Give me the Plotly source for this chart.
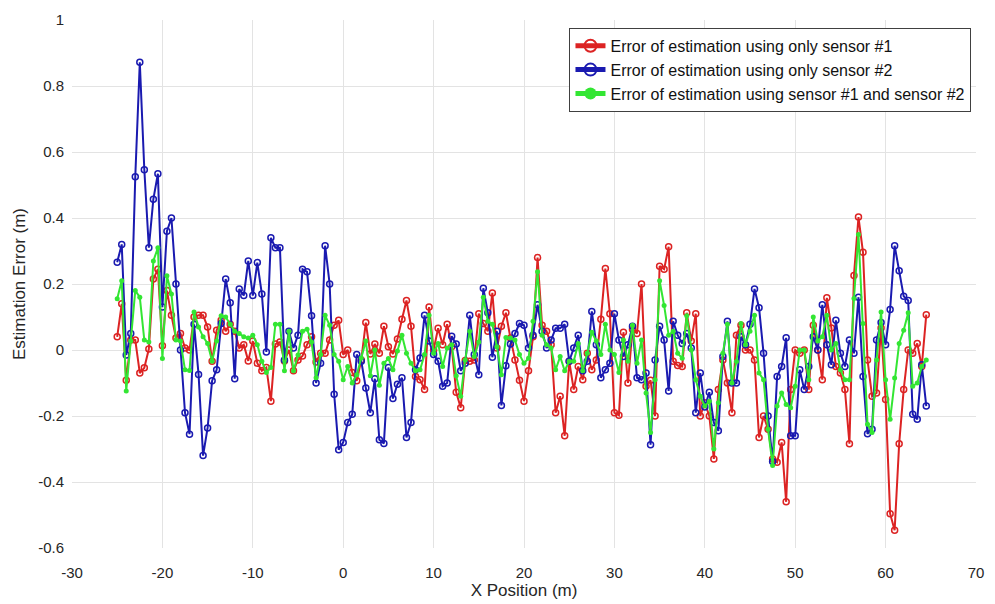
import numpy as np
import plotly.graph_objects as go

# X positions (m): regular 0.5 m sampling from -25 to 64.5
x_pos = np.arange(-25.0, 65.0, 0.5)

err_sensor1 = [
    0.04, 0.14, -0.092, 0.03, 0.03, -0.07, -0.054, 0.003, 0.215, 0.245,
    0.013, 0.18, 0.105, 0.036, 0.05, 0.006, 0.0, 0.1, 0.105, 0.105,
    0.07, -0.034, 0.06, 0.09, 0.057, 0.078, 0.057, 0.006, 0.016, -0.033,
    0.027, -0.04, -0.063, -0.053, -0.155, 0.018, 0.024, -0.033, 0.0, -0.063,
    -0.03, -0.018, 0.016, 0.04, -0.036, -0.01, -0.01, 0.03, 0.075, 0.09,
    -0.014, 0.0, -0.068, -0.093, -0.03, 0.083, -0.012, 0.018, -0.01, 0.072,
    0.01, -0.012, 0.033, 0.093, 0.15, 0.072, -0.08, -0.09, -0.12, 0.13,
    0.0, 0.066, 0.016, 0.078, 0.01, -0.128, -0.175, -0.032, -0.034, -0.03,
    0.11, 0.08, 0.057, 0.173, 0.006, 0.072, 0.113, 0.036, -0.03, -0.092,
    -0.155, -0.063, 0.04, 0.28, 0.075, 0.057, 0.016, -0.19, -0.14, -0.26,
    -0.034, -0.12, -0.05, -0.09, -0.01, -0.06, -0.03, 0.093, 0.247, 0.11,
    -0.19, -0.198, 0.054, -0.1, 0.063, 0.05, 0.2, -0.11, -0.092, -0.2,
    0.254, 0.245, 0.313, -0.034, -0.047, -0.05, 0.113, 0.027, 0.11, -0.2,
    -0.16, -0.2, -0.33, -0.12, -0.03, -0.1, -0.19, 0.045, 0.075, 0.0,
    0.0, -0.03, -0.265, -0.2, -0.24, -0.33, -0.34, -0.28, -0.46, -0.12,
    0.0, -0.01, 0.0, -0.12, 0.075, 0.0, -0.09, 0.158, 0.067, -0.05,
    -0.07, -0.12, -0.284, 0.226, 0.403, 0.296, -0.03, -0.14, -0.13, 0.067,
    -0.15, -0.496, -0.546, -0.284, -0.12, 0.0, -0.01, 0.02, -0.05, 0.107,
]

err_sensor2 = [
    0.266, 0.32, -0.015, 0.05, 0.525, 0.872, 0.546, 0.31, 0.457, 0.534,
    0.13, 0.36, 0.40, 0.20, 0.0, -0.19, -0.255, 0.078, -0.074, -0.32,
    -0.236, -0.093, -0.06, 0.08, 0.215, 0.143, -0.087, 0.185, 0.165, 0.27,
    0.165, 0.265, 0.17, -0.006, 0.34, 0.31, 0.31, -0.03, 0.057, 0.006,
    0.045, 0.245, 0.237, 0.104, -0.1, -0.04, 0.316, 0.2, -0.134, -0.302,
    -0.28, -0.22, -0.195, -0.014, -0.034, -0.115, -0.19, -0.087, -0.272, -0.283,
    -0.053, -0.147, -0.104, -0.084, -0.265, -0.22, -0.06, -0.024, 0.105, 0.027,
    -0.014, -0.034, -0.11, -0.1, 0.042, 0.018, -0.063, -0.04, 0.105, -0.014,
    -0.075, 0.187, 0.113, -0.022, 0.057, -0.168, -0.048, 0.018, 0.05, 0.08,
    0.075, 0.006, 0.045, 0.137, 0.057, 0.006, 0.03, 0.066, 0.066, 0.078,
    -0.034, 0.006, 0.045, -0.063, -0.034, 0.117, 0.016, -0.084, -0.06, -0.04,
    0.11, 0.03, -0.02, 0.016, 0.072, -0.084, -0.09, -0.07, -0.287, -0.03,
    0.072, 0.03, -0.124, 0.087, 0.045, 0.02, 0.05, 0.006, -0.19, -0.07,
    -0.173, -0.128, -0.22, -0.245, -0.02, 0.087, -0.1, -0.1, 0.04, 0.016,
    0.078, 0.185, 0.128, -0.01, -0.2, -0.338, -0.08, -0.05, 0.037, -0.26,
    -0.26, -0.06, -0.12, -0.05, 0.04, 0.0, 0.137, 0.016, -0.045, 0.09,
    -0.01, -0.05, 0.03, -0.01, 0.16, -0.08, -0.254, -0.24, 0.03, 0.083,
    0.016, 0.123, 0.316, 0.24, 0.163, 0.15, -0.195, -0.21, -0.045, -0.17,
]

err_fused = [
    0.155, 0.21, -0.124, 0.027, 0.18, 0.16, 0.03, 0.024, 0.27, 0.31,
    -0.026, 0.225, 0.17, 0.03, 0.027, -0.06, -0.062, 0.115, 0.07, 0.04,
    0.02, -0.034, 0.027, 0.104, 0.1, 0.078, 0.057, 0.05, 0.04, 0.036,
    0.045, 0.016, -0.034, -0.068, -0.053, 0.078, 0.078, -0.063, 0.057, -0.063,
    -0.015, 0.057, 0.063, 0.024, -0.084, -0.014, 0.105, 0.075, -0.014, -0.034,
    -0.09, -0.05, -0.1, -0.075, -0.024, 0.027, -0.078, 0.0, -0.107, -0.04,
    -0.026, -0.06, -0.003, 0.045, -0.01, -0.04, -0.063, -0.06, -0.014, 0.105,
    -0.01, 0.02, -0.05, 0.006, 0.016, -0.078, -0.14, -0.03, 0.057, -0.02,
    0.024, 0.16, 0.087, 0.078, 0.01, -0.075, 0.038, 0.036, 0.03, -0.014,
    -0.04, -0.025, 0.087, 0.237, 0.045, 0.016, 0.006, -0.06, -0.02, -0.063,
    -0.034, -0.034, 0.02, -0.063, -0.01, 0.054, 0.027, -0.014, 0.078, 0.0,
    -0.014, -0.068, 0.03, -0.034, 0.075, -0.04, 0.03, -0.13, -0.25, -0.09,
    0.21, 0.135, 0.045, 0.057, -0.01, -0.025, 0.104, 0.0, -0.09, -0.14,
    -0.17, -0.155, -0.3, -0.16, -0.01, 0.078, -0.1, -0.035, 0.08, 0.016,
    0.057, 0.105, -0.07, -0.09, -0.24, -0.35, -0.17, -0.13, -0.165, -0.175,
    -0.11, 0.0, 0.0, -0.09, 0.1, 0.027, 0.04, 0.105, 0.0, 0.02,
    -0.06, -0.09, -0.09, 0.156, 0.35, 0.08, -0.225, -0.25, -0.03, 0.115,
    -0.09, -0.21, -0.085, 0.02, 0.06, 0.113, -0.11, -0.1, -0.05, -0.03,
]

series_names = [
    "Error of estimation using only sensor #1",
    "Error of estimation using only sensor #2",
    "Error of estimation using sensor #1 and sensor #2",
]

x_ticks = [-30, -20, -10, 0, 10, 20, 30, 40, 50, 60, 70]
y_ticks = [-0.6, -0.4, -0.2, 0, 0.2, 0.4, 0.6, 0.8, 1]
y_tick_labels = ["-0.6", "-0.4", "-0.2", "0", "0.2", "0.4", "0.6", "0.8", "1"]

FONT = "Liberation Sans, Arial, sans-serif"

fig = go.Figure()
fig.add_trace(go.Scatter(
    x=x_pos, y=err_sensor1, name=series_names[0], mode="lines+markers",
    line=dict(color="#dc2323", width=2),
    marker=dict(symbol="circle-open", size=6, color="#dc2323", line=dict(width=1.5)),
))
fig.add_trace(go.Scatter(
    x=x_pos, y=err_sensor2, name=series_names[1], mode="lines+markers",
    line=dict(color="#1a1ab0", width=2),
    marker=dict(symbol="circle-open", size=6, color="#1a1ab0", line=dict(width=1.5)),
))
fig.add_trace(go.Scatter(
    x=x_pos, y=err_fused, name=series_names[2], mode="lines+markers",
    line=dict(color="#33e633", width=2),
    marker=dict(symbol="circle", size=5, color="#33e633"),
))

fig.update_layout(
    width=995, height=604,
    margin=dict(l=72, r=11, t=17, b=51),
    paper_bgcolor="white", plot_bgcolor="white",
    font=dict(family=FONT, size=15, color="#262626"),
    showlegend=True,
    legend=dict(
        x=0.995, y=0.985, xanchor="right", yanchor="top",
        bgcolor="white", bordercolor="#404040", borderwidth=1,
        font=dict(family=FONT, size=16, color="#111111"),
        itemsizing="constant", itemwidth=30, tracegroupgap=0,
    ),
)
fig.update_xaxes(
    range=[-30, 70], tickvals=x_ticks, ticktext=[str(v) for v in x_ticks],
    showgrid=True, gridcolor="#e3e3e3", gridwidth=1, zeroline=False,
    showline=False, ticks="", ticklabelstandoff=14,
    title=dict(text="X Position (m)", font=dict(size=17, family=FONT, color="#262626"), standoff=0),
    tickfont=dict(size=15, family=FONT, color="#262626"),
)
fig.update_yaxes(
    range=[-0.6, 1], tickvals=y_ticks, ticktext=y_tick_labels,
    showgrid=True, gridcolor="#e3e3e3", gridwidth=1, zeroline=False,
    showline=False, ticks="", ticklabelstandoff=7,
    title=dict(text="Estimation Error (m)", font=dict(size=17, family=FONT, color="#262626"), standoff=8),
    tickfont=dict(size=15, family=FONT, color="#262626"),
)

fig.write_html("out.html")
